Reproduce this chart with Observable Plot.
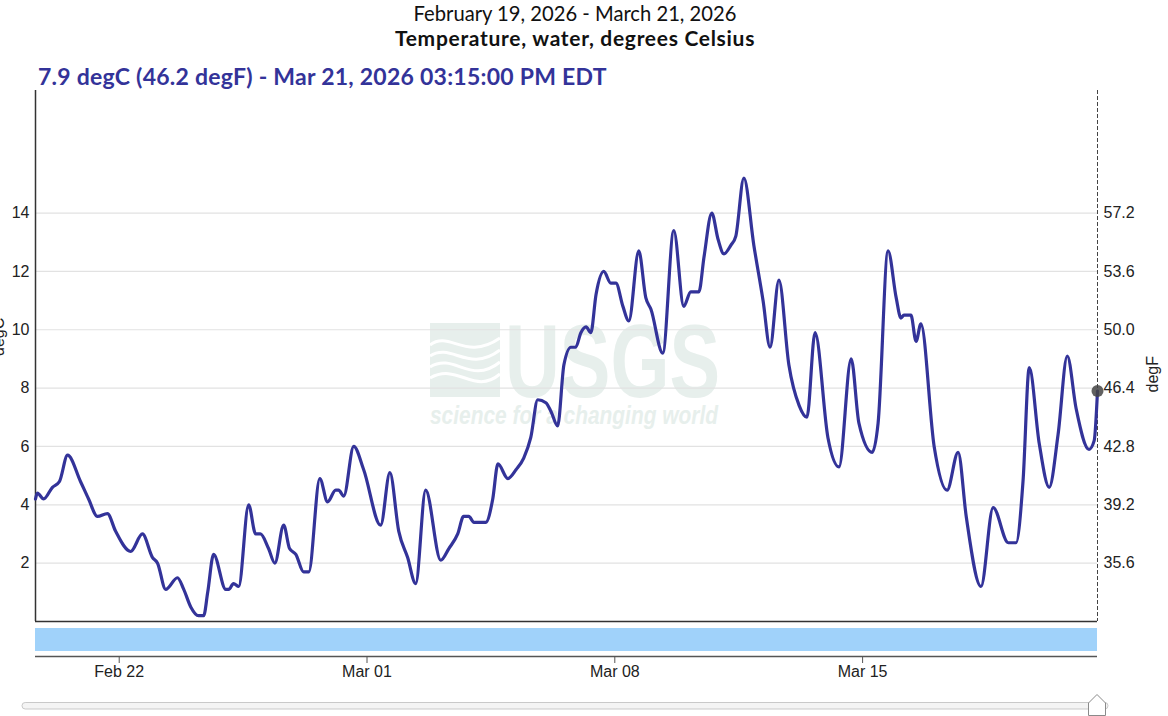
<!DOCTYPE html>
<html>
<head>
<meta charset="utf-8">
<script src="https://cdn.jsdelivr.net/npm/d3@7"></script>
<script src="https://cdn.jsdelivr.net/npm/@observablehq/plot@0.6"></script>
<style>
  html, body { margin: 0; padding: 0; background: #fff; }
  #wrap { position: relative; width: 1168px; height: 716px; overflow: hidden; background: #fff; }
  .hdr { position: absolute; left: 0; width: 1150px; text-align: center; white-space: nowrap; color: #111; font-family: Lato, "Open Sans", sans-serif; }
  #t1 { top: 2px; font-size: 20.2px; line-height: 22px; font-weight: 400; }
  #t2 { top: 27px; font-size: 21px; line-height: 22px; font-weight: 700; letter-spacing: 0.7px; }
  #t3 { top: 63px; left: 38px; width: auto; text-align: left; font-size: 23px; line-height: 26px; font-weight: 700; color: #333399; letter-spacing: 0.25px; }
  #wm, #main, #nav, #slider { position: absolute; left: 0; }
  #wm { top: 0; z-index: 0; }
  #main { top: 80px; z-index: 1; }
  #nav { top: 621px; z-index: 1; }
  #slider { top: 690px; z-index: 1; }
</style>
</head>
<body>
<div id="wrap">
  <svg id="wm" width="1168" height="716">
    <g fill="#e7efec">
      <rect x="430" y="323" width="70" height="74"></rect>
      <g fill="none" stroke="#fff" stroke-width="3">
        <path d="M430,345 C450,330 465,362 500,338"></path>
        <path d="M430,356 C452,342 468,374 500,350"></path>
        <path d="M430,367 C455,352 470,386 500,362"></path>
        <path d="M430,378 C458,362 474,396 500,374"></path>
      </g>
      <text x="505" y="397" font-family="'Liberation Sans', Arial, sans-serif" font-weight="bold" font-size="104" textLength="215" lengthAdjust="spacingAndGlyphs">USGS</text>
      <text x="430" y="424" font-family="'Liberation Sans', Arial, sans-serif" font-weight="bold" font-style="italic" font-size="26" textLength="288" lengthAdjust="spacingAndGlyphs">science for a changing world</text>
    </g>
  </svg>
  <div class="hdr" id="t1">February 19, 2026 - March 21, 2026</div>
  <div class="hdr" id="t2">Temperature, water, degrees Celsius</div>
  <div class="hdr" id="t3">7.9 degC (46.2 degF) - Mar 21, 2026 03:15:00 PM EDT</div>
  <div id="main"></div>
  <div id="nav"></div>
  <svg id="slider" width="1168" height="26">
    <rect x="22" y="12.5" width="1086" height="6.5" rx="3.2" fill="#f4f4f4" stroke="#c9c9c9"></rect>
    <path d="M1088.5,25.5 L1088.5,13 L1097,4.5 L1105.5,13 L1105.5,25.5 Z" fill="#fff" stroke="#8a8a8a"></path>
  </svg>
</div>
<script>
// ---- data ----
const times = [
  "02-19T15:15","02-19T16:30","02-19T20:45","02-20T02:45","02-20T07:30","02-20T13:00","02-20T21:45",
  "02-21T03:15","02-21T09:15","02-21T16:00","02-21T21:30","02-22T07:45","02-22T15:45","02-22T22:30",
  "02-23T02:00","02-23T07:30","02-23T15:30","02-23T19:45","02-24T00:30","02-24T05:45","02-24T09:15",
  "02-24T12:00","02-24T16:00","02-25T00:15","02-25T02:15","02-25T05:30","02-25T09:00","02-25T15:45",
  "02-25T20:30","02-25T23:45","02-26T05:15","02-26T09:30","02-26T15:30","02-26T19:30","02-26T23:45",
  "02-27T05:00","02-27T08:30","02-27T16:00","02-27T21:15","02-28T02:45","02-28T04:45","02-28T08:15",
  "02-28T15:00","02-28T21:45","03-01T09:15","03-01T15:30","03-01T21:30","03-02T03:30","03-02T09:00",
  "03-02T15:45","03-03T02:00","03-03T07:30","03-03T13:30","03-03T17:30","03-03T21:00","03-04T00:30",
  "03-04T08:30","03-04T13:15","03-04T16:45","03-04T23:30","03-05T05:00","03-05T10:15","03-05T15:00",
  "03-05T19:45","03-06T01:15","03-06T04:45","03-06T09:15","03-06T13:30","03-06T18:15","03-06T21:30",
  "03-07T01:00","03-07T04:30","03-07T07:45","03-07T11:15","03-07T16:30","03-07T21:15","03-08T00:45",
  "03-08T05:30","03-08T09:30","03-08T16:15","03-08T21:00","03-09T00:30","03-09T08:30","03-09T16:00",
  "03-09T22:45","03-10T03:30","03-10T09:00","03-10T12:30","03-10T17:45","03-10T22:00","03-11T02:00",
  "03-11T06:45","03-11T10:00","03-11T15:30","03-11T22:15","03-12T04:30","03-12T09:15","03-12T15:15",
  "03-12T22:00","03-13T05:00","03-13T10:15","03-13T15:45","03-14T00:30","03-14T08:00","03-14T16:15",
  "03-14T21:30","03-15T06:30","03-15T10:30","03-15T17:15","03-15T22:45","03-16T02:00","03-16T04:00",
  "03-16T08:45","03-16T12:15","03-16T15:30","03-17T00:30","03-17T09:15","03-17T16:45","03-17T22:15",
  "03-18T08:15","03-18T16:30","03-19T02:45","03-19T08:00","03-19T12:45","03-19T17:00","03-19T23:45",
  "03-20T06:30","03-20T12:30","03-20T18:45","03-21T00:45","03-21T09:30","03-21T13:00","03-21T15:15"
];
const tempC = [
  4.2,4.4,4.2,4.6,4.8,5.7,4.8,
  4.2,3.6,3.7,3.1,2.4,3.0,2.2,
  2.0,1.1,1.5,1.1,0.5,0.2,0.2,
  1.0,2.3,1.1,1.1,1.3,1.2,4.0,
  3.0,3.0,2.5,2.0,3.3,2.5,2.3,
  1.7,1.7,4.9,4.1,4.5,4.5,4.3,
  6.0,5.2,3.3,5.1,3.1,2.2,1.3,
  4.5,2.1,2.5,3.0,3.6,3.6,3.4,
  3.4,4.2,5.4,4.9,5.2,5.6,6.3,
  7.6,7.5,7.2,6.7,8.8,9.4,9.4,
  9.9,10.1,9.9,11.2,12.0,11.6,11.6,
  10.8,10.3,12.7,11.1,10.7,9.2,13.4,
  10.8,11.3,11.3,12.5,14.0,13.1,12.6,
  12.9,13.2,15.2,12.9,11.0,9.4,11.7,
  8.8,7.4,7.0,9.9,6.3,5.3,9.0,
  6.8,5.8,6.8,12.7,11.1,10.4,10.5,
  10.5,9.6,10.2,6.0,4.5,5.8,3.6,
  1.2,3.9,2.7,2.7,4.8,8.7,6.1,
  4.6,6.4,9.1,7.3,5.9,6.2,7.9
];
const yTicks = [2, 4, 6, 8, 10, 12, 14];
const xTickDates = ["2026-02-22", "2026-03-01", "2026-03-08", "2026-03-15"];
const rangeStart = "2026-02-19T15:15";
const rangeEnd = "2026-03-21T15:15";
const yMax = 18.2;

// ---- build ----
const data = times.map((t, i) => ({date: new Date("2026-" + t + "Z"), c: tempC[i]}));
const x0 = new Date(rangeStart + "Z"), x1 = new Date(rangeEnd + "Z");
const last = data[data.length - 1];
const xTicks = xTickDates.map(d => new Date(d + "T00:00Z"));
const axisFont = "'Liberation Sans', Arial, sans-serif";

const main = Plot.plot({
  width: 1168, height: 543,
  marginTop: 10, marginBottom: 2, marginLeft: 35, marginRight: 71,
  style: {background: "transparent", fontFamily: axisFont, fontSize: "16px", color: "#222", overflow: "visible"},
  x: {type: "utc", domain: [x0, x1], axis: null},
  y: {domain: [0, yMax], axis: null},
  marks: [
    Plot.gridY(yTicks, {stroke: "#e2e2e2", strokeOpacity: 1, strokeWidth: 1.2}),
    Plot.axisY(yTicks, {anchor: "left", tickSize: 0, tickPadding: 6, label: null}),
    Plot.axisY(yTicks, {anchor: "right", tickSize: 0, tickPadding: 6, label: null, tickFormat: d => (d * 1.8 + 32).toFixed(1)}),
    Plot.ruleX([x0], {stroke: "#333", strokeWidth: 1.5}),
    Plot.ruleY([0], {stroke: "#333", strokeWidth: 1.5}),
    Plot.ruleX([x1], {stroke: "#444", strokeWidth: 1, strokeDasharray: "4,2"}),
    Plot.line(data, {x: "date", y: "c", stroke: "#333399", strokeWidth: 3.2, curve: "monotone-x"}),
    Plot.dot([last], {x: "date", y: "c", r: 6, fill: "#444", fillOpacity: 0.85, stroke: "none"}),
    Plot.text(["degC"], {text: d => d, frameAnchor: "left", dx: -37, rotate: -90, fontSize: 16, fill: "#222"}),
    Plot.text(["degF"], {text: d => d, frameAnchor: "right", dx: 55, rotate: -90, fontSize: 16, fill: "#222"})
  ]
});
document.getElementById("main").appendChild(main);

const nav = Plot.plot({
  width: 1168, height: 64,
  marginTop: 7, marginBottom: 29, marginLeft: 35, marginRight: 71,
  style: {background: "transparent", fontFamily: axisFont, fontSize: "16px", color: "#222"},
  x: {type: "utc", domain: [x0, x1]},
  y: {domain: [0, 1], axis: null},
  marks: [
    Plot.rect([{a: x0, b: x1}], {x1: "a", x2: "b", fill: "#a0d2fa", insetBottom: 5}),
    Plot.ruleY([0], {stroke: "#555", strokeWidth: 1.5}),
    Plot.axisX(xTicks, {tickSize: 7, tickPadding: 2, label: null, stroke: "#555", tickFormat: d3.utcFormat("%b %d")})
  ]
});
document.getElementById("nav").appendChild(nav);
</script>
</body>
</html>
